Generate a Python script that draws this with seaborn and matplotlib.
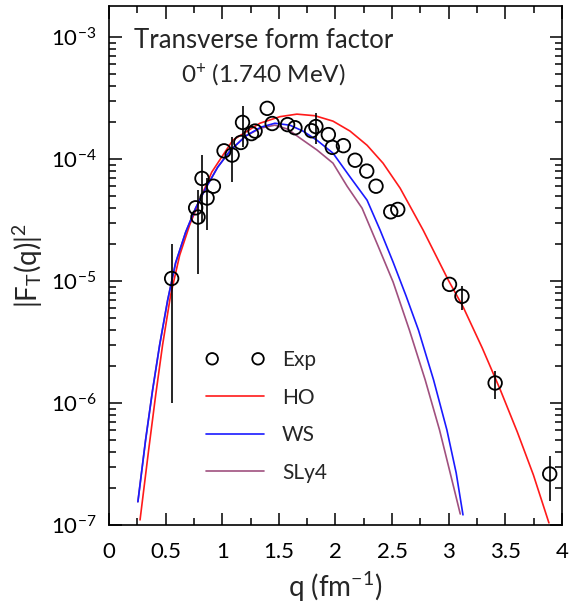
import numpy as np
import pandas as pd
import matplotlib
matplotlib.use('Agg')
import matplotlib.pyplot as plt
import seaborn as sns
from matplotlib.ticker import MultipleLocator, LogLocator, NullFormatter

# experimental points: q (fm^-1), |F_T|^2, error (0 = no bar drawn)
exp_q = [0.553, 0.765, 0.786, 0.821, 0.866, 0.922, 1.016, 1.087, 1.164, 1.179,
         1.258, 1.29, 1.397, 1.441, 1.577, 1.642, 1.789, 1.827, 1.937, 1.972,
         2.07, 2.173, 2.276, 2.358, 2.488, 2.55, 3.007, 3.117, 3.41, 3.892]
exp_y = [1.05e-5, 3.99e-5, 3.35e-5, 6.95e-5, 4.8e-5, 6.0e-5, 1.17e-4, 1.08e-4, 1.37e-4, 2.0e-4,
         1.62e-4, 1.70e-4, 2.61e-4, 1.96e-4, 1.92e-4, 1.81e-4, 1.71e-4, 1.85e-4, 1.59e-4, 1.25e-4,
         1.29e-4, 9.8e-5, 7.98e-5, 6.0e-5, 3.70e-5, 3.87e-5, 9.4e-6, 7.5e-6, 1.46e-6, 2.62e-7]
exp_err = [0.95e-5, 0, 2.2e-5, 3.9e-5, 2.2e-5, 0, 0, 4.3e-5, 0, 7.5e-5,
           0, 0, 0, 0, 0, 0, 0, 5.3e-5, 0, 0,
           0, 0, 0, 0, 0, 0, 0, 1.7e-6, 0.38e-6, 1.05e-7]

# HO curve
ho_q = [0.274, 0.350, 0.412, 0.473, 0.544, 0.624, 0.712, 0.801, 0.907, 1.093,
        1.332, 1.509, 1.659, 1.819, 1.978, 2.128, 2.279, 2.420, 2.571, 2.774,
        2.996, 3.128, 3.296, 3.456, 3.606, 3.748, 3.885]
ho_y = [1.10e-7, 4.12e-7, 1.16e-6, 2.99e-6, 7.67e-6, 1.63e-5, 2.88e-5, 4.61e-5, 7.82e-5, 1.43e-4,
        1.97e-4, 2.23e-4, 2.34e-4, 2.27e-4, 2.05e-4, 1.70e-4, 1.30e-4, 9.27e-5, 5.78e-5, 2.62e-5,
        1.02e-5, 6.12e-6, 2.83e-6, 1.28e-6, 5.78e-7, 2.57e-7, 1.04e-7]

# WS curve
ws_q = [0.255, 0.323, 0.385, 0.447, 0.518, 0.588, 0.677, 0.765, 0.854, 0.960,
        1.075, 1.208, 1.341, 1.465, 1.597, 1.712, 1.836, 1.978, 2.128, 2.279,
        2.394, 2.509, 2.624, 2.733, 2.866, 2.984, 3.066, 3.126]
ws_y = [1.55e-7, 4.98e-7, 1.28e-6, 2.99e-6, 6.99e-6, 1.41e-5, 2.52e-5, 3.97e-5, 5.78e-5, 8.60e-5,
        1.19e-4, 1.55e-4, 1.83e-4, 1.97e-4, 1.90e-4, 1.70e-4, 1.43e-4, 1.12e-4, 7.16e-5, 4.61e-5,
        2.62e-5, 1.43e-5, 7.53e-6, 3.96e-6, 1.55e-6, 6.01e-7, 2.67e-7, 1.21e-7]

# SLy4 curve
sly_q = [0.255, 0.323, 0.385, 0.447, 0.518, 0.588, 0.677, 0.765, 0.854, 0.960,
         1.075, 1.208, 1.341, 1.465, 1.580, 1.686, 1.836, 1.978, 2.102, 2.235,
         2.376, 2.509, 2.653, 2.792, 2.919, 3.013, 3.102]
sly_y = [1.55e-7, 4.98e-7, 1.28e-6, 2.99e-6, 6.99e-6, 1.41e-5, 2.52e-5, 3.97e-5, 5.78e-5, 8.60e-5,
         1.19e-4, 1.55e-4, 1.80e-4, 1.90e-4, 1.76e-4, 1.49e-4, 1.19e-4, 9.27e-5, 6.01e-5, 3.96e-5,
         1.94e-5, 9.82e-6, 3.96e-6, 1.55e-6, 6.01e-7, 2.67e-7, 1.23e-7]

sns.set_style('ticks')
plt.rcParams['font.family'] = ['Lato', 'DejaVu Sans']
plt.rcParams['mathtext.fontset'] = 'custom'
plt.rcParams['mathtext.rm'] = 'Lato'
plt.rcParams['mathtext.it'] = 'Lato:italic'

fig = plt.figure(figsize=(5.69, 6.09), dpi=100)
ax = fig.add_axes([0.1916, 0.138, 0.796, 0.852])

df_exp = pd.DataFrame({'q': exp_q, 'y': exp_y, 'err': exp_err})
bars = df_exp[df_exp['err'] > 0]
ax.errorbar(bars['q'], bars['y'], yerr=bars['err'], fmt='none', ecolor='black',
            elinewidth=1.2, capsize=0, zorder=3)

sns.lineplot(x=ho_q, y=ho_y, sort=False, color='#ff1a1a', lw=1.2, ax=ax, label='HO', zorder=2)
sns.lineplot(x=ws_q, y=ws_y, sort=False, color='#1a1aff', lw=1.2, ax=ax, label='WS', zorder=2)
sns.lineplot(x=sly_q, y=sly_y, sort=False, color='#a0507f', lw=1.2, ax=ax, label='SLy4', zorder=1.9)
sns.scatterplot(data=df_exp, x='q', y='y', marker='o', s=95, facecolor='none',
                edgecolor='black', linewidth=1.3, ax=ax, label='Exp', zorder=4)

ax.set_yscale('log')
ax.set_xlim(0, 4)
ax.set_ylim(1e-7, 1.8e-3)

ax.xaxis.set_minor_locator(MultipleLocator(0.25))
ax.set_xticks([0, 0.5, 1, 1.5, 2, 2.5, 3, 3.5, 4])
ax.set_xticklabels(['0', '0.5', '1', '1.5', '2', '2.5', '3', '3.5', '4'])
ax.yaxis.set_major_locator(LogLocator(base=10, numticks=10))
ax.yaxis.set_minor_locator(LogLocator(base=10, subs=np.arange(2, 10), numticks=10))
ax.yaxis.set_minor_formatter(NullFormatter())

ax.tick_params(which='both', direction='in', top=True, right=True, width=1.1, colors='black')
ax.tick_params(which='major', length=9, labelsize=16)
ax.tick_params(axis='x', which='major', pad=12)
ax.tick_params(axis='y', which='major', pad=9)
ax.tick_params(which='minor', length=5)
for s in ax.spines.values():
    s.set_linewidth(1.2)
    s.set_color('black')

ax.set_xlabel('q (fm$^{\\mathregular{-1}}$)', fontsize=20, labelpad=6)
ax.set_ylabel('|F$_{\\mathregular{T}}$(q)|$^{\\mathregular{2}}$', fontsize=20, labelpad=4)

ax.text(0.341, 0.934, 'Transverse form factor', transform=ax.transAxes,
        ha='center', va='center', fontsize=18.5)
ax.text(0.341, 0.867, '0$^{\\mathregular{+}}$ (1.740 MeV)', transform=ax.transAxes,
        ha='center', va='center', fontsize=17.5)

h, l = ax.get_legend_handles_labels()
order = [l.index('Exp'), l.index('HO'), l.index('WS'), l.index('SLy4')]
ax.legend([h[i] for i in order], [l[i] for i in order], loc='upper left',
          bbox_to_anchor=(0.214, 0.337), frameon=False, fontsize=15,
          scatterpoints=2, scatteryoffsets=[0.5], markerscale=0.85,
          handlelength=2.8, handletextpad=0.85,
          labelspacing=0.84, borderaxespad=0, borderpad=0)

fig.savefig('out.png', dpi=100)
